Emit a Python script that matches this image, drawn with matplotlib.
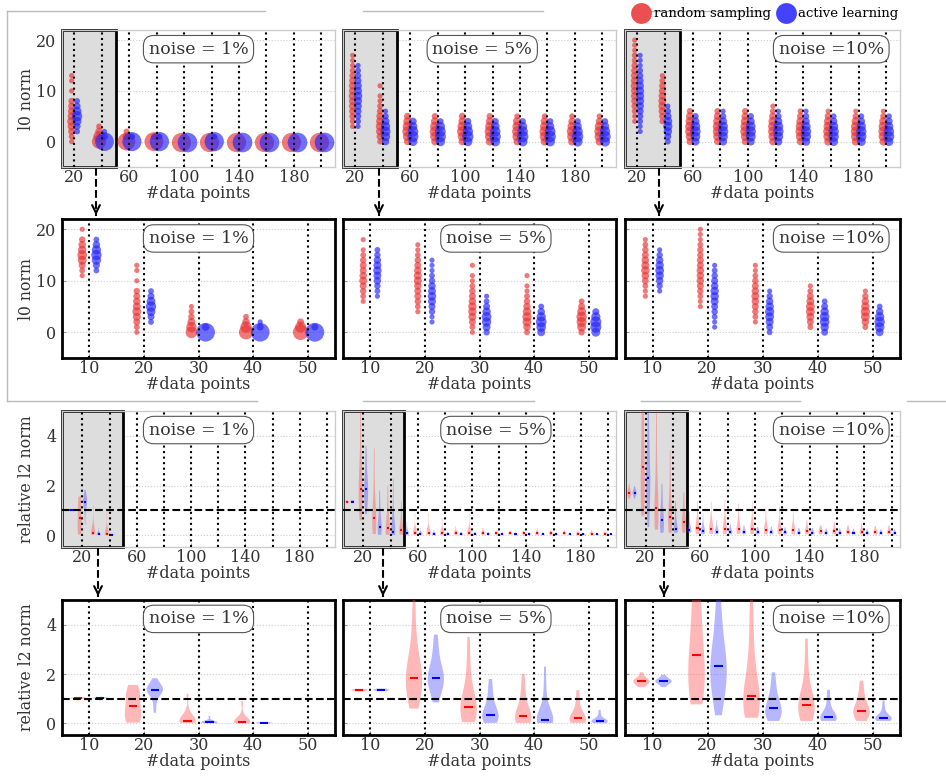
import numpy as np
import matplotlib.pyplot as plt
from matplotlib.patches import Rectangle, FancyArrowPatch
from matplotlib.lines import Line2D

plt.rcParams['font.family'] = 'DejaVu Serif'

W, H = 946, 779
RED = '#e83030'
BLUE = '#2222ff'

noise_text = ['noise = 1%', 'noise = 5%', 'noise =10%']

# l0 norm, bubble data: {#data points: (first l0 value, counts for l0 = first, first+1, ...)}
# overview rows (20..200)
rand_top_1 = {20: (0, [1, 2, 4, 6, 8, 6, 5, 4, 3, 0, 1, 0, 1, 1]), 40: (0, [25, 15, 5, 2]),
              60: (0, [40, 6, 2]), 80: (0, [46, 3]), 100: (0, [48]), 120: (0, [48]),
              140: (0, [48]), 160: (0, [48]), 180: (0, [48]), 200: (0, [48])}
act_top_1 = {20: (2, [2, 4, 8, 12, 8, 4, 2]), 40: (0, [45, 4, 1]), 60: (0, [47, 3]),
             80: (0, [48, 2]), 100: (0, [50]), 120: (0, [48, 2]), 140: (0, [50]),
             160: (0, [50]), 180: (0, [50]), 200: (0, [50])}
rand_top_5 = {20: (3, [1, 2, 3, 4, 5, 5, 6, 5, 5, 4, 3, 2, 1, 1, 1]),
              40: (0, [2, 4, 6, 7, 6, 5, 3, 2, 1, 1, 0, 1]),
              60: (0, [4, 9, 12, 10, 7, 4]), 80: (0, [5, 10, 12, 10, 6, 3]),
              100: (0, [5, 9, 13, 10, 6, 4]), 120: (0, [6, 10, 12, 9, 6, 3]),
              140: (0, [5, 10, 12, 10, 7, 2]), 160: (0, [6, 11, 12, 9, 6, 2]),
              180: (0, [6, 11, 13, 9, 5, 2]), 200: (0, [6, 11, 12, 10, 5, 2])}
act_top_5 = {20: (3, [1, 2, 3, 4, 5, 6, 7, 6, 5, 4, 3, 2, 1]),
             40: (0, [5, 9, 11, 9, 6, 3, 1]),
             60: (0, [8, 14, 13, 8, 5]), 80: (0, [9, 14, 13, 9, 3]),
             100: (0, [9, 15, 12, 8, 4]), 120: (0, [10, 14, 12, 8, 4]),
             140: (0, [10, 15, 12, 8, 3]), 160: (0, [10, 15, 13, 7, 3]),
             180: (0, [11, 15, 12, 7, 3]), 200: (0, [11, 15, 12, 7, 3])}
rand_top_10 = {20: (4, [1, 1, 2, 3, 4, 5, 5, 6, 5, 5, 4, 3, 2, 2, 1, 1, 1]),
               40: (4, [2, 3, 5, 6, 6, 5, 4, 3, 2, 1]),
               60: (0, [4, 7, 10, 10, 8, 6, 3]), 80: (0, [4, 8, 10, 10, 8, 5, 3]),
               100: (0, [4, 8, 11, 10, 8, 5, 3]), 120: (0, [5, 8, 10, 10, 8, 5, 2, 1]),
               140: (0, [5, 9, 11, 10, 7, 4, 2]), 160: (0, [6, 10, 11, 9, 7, 4, 1]),
               180: (0, [6, 10, 11, 10, 7, 3, 1]), 200: (0, [6, 10, 11, 10, 7, 3, 1])}
act_top_10 = {20: (2, [1, 1, 2, 3, 4, 5, 6, 6, 6, 5, 4, 3, 2, 1, 1, 1]),
              40: (0, [2, 4, 7, 9, 8, 5, 3, 1]),
              60: (0, [6, 10, 12, 10, 6, 3]), 80: (0, [6, 10, 12, 10, 6, 3, 1]),
              100: (0, [6, 11, 12, 10, 6, 3]), 120: (0, [6, 10, 12, 10, 6, 3, 1]),
              140: (0, [7, 11, 12, 9, 5, 3, 1]), 160: (0, [8, 12, 12, 9, 5, 2]),
              180: (0, [8, 12, 12, 9, 5, 2]), 200: (0, [8, 13, 12, 8, 5, 2])}

# zoomed rows (10..50)
rand_zoom_1 = {10: (11, [1, 2, 4, 8, 10, 7, 5, 3, 0, 1]),
               20: (0, [1, 2, 4, 6, 8, 6, 5, 4, 3, 0, 1, 0, 1, 1]),
               30: (0, [16, 12, 6, 3, 2, 1]), 40: (0, [25, 15, 5, 2]), 50: (0, [30, 14, 4])}
act_zoom_1 = {10: (12, [2, 4, 9, 12, 9, 5, 2]), 20: (2, [2, 4, 8, 12, 8, 4, 2]),
              30: (0, [45, 5]), 40: (0, [45, 4, 1]), 50: (0, [46, 4])}
rand_zoom_5 = {10: (6, [1, 2, 3, 4, 6, 5, 4, 4, 3, 2, 1, 0, 1]),
               20: (4, [1, 2, 3, 4, 4, 5, 6, 6, 5, 4, 3, 2, 1, 1]),
               30: (0, [1, 2, 4, 6, 7, 7, 5, 4, 3, 2, 1, 1, 0, 1]),
               40: (0, [2, 5, 8, 9, 7, 5, 3, 2, 1, 1, 0, 1]),
               50: (0, [3, 8, 11, 12, 8, 4, 2])}
act_zoom_5 = {10: (7, [1, 2, 3, 5, 6, 7, 6, 5, 3, 2]),
              20: (2, [1, 1, 3, 4, 6, 7, 6, 5, 3, 2, 1, 1, 1]),
              30: (0, [3, 6, 9, 10, 7, 4, 2, 1]),
              40: (0, [6, 10, 13, 9, 5, 2]),
              50: (0, [8, 14, 14, 9, 4])}
rand_zoom_10 = {10: (7, [1, 1, 2, 4, 5, 7, 6, 5, 4, 3, 2, 1]),
                20: (5, [1, 1, 2, 3, 4, 5, 5, 5, 4, 4, 3, 3, 2, 1, 1, 1]),
                30: (2, [1, 2, 3, 4, 5, 6, 5, 4, 3, 2, 1, 1]),
                40: (1, [2, 4, 6, 8, 8, 6, 4, 2, 1]),
                50: (1, [2, 5, 8, 9, 7, 5, 3, 1])}
act_zoom_10 = {10: (8, [1, 3, 5, 7, 8, 7, 5, 3, 1]),
               20: (1, [1, 1, 2, 3, 4, 6, 7, 7, 5, 4, 3, 2, 1]),
               30: (0, [2, 4, 6, 8, 9, 7, 5, 3, 1]),
               40: (0, [4, 7, 10, 10, 7, 4, 2]),
               50: (0, [6, 10, 12, 9, 5, 2])}

# relative l2 norm samples per #data points
rand_l2_1 = {10: [1.0, 1.01, 1.02, 1.03, 1.03, 1.04, 1.05, 1.06],
             20: [0.03, 0.1, 0.15, 0.25, 0.4, 0.55, 0.69, 0.85, 1.0, 1.15, 1.3, 1.45, 1.56],
             30: [0.02, 0.04, 0.06, 0.08, 0.09, 0.1, 0.12, 0.15, 0.25, 0.5, 1.2],
             40: [0.01, 0.02, 0.03, 0.04, 0.05, 0.06, 0.08, 0.1, 0.3, 0.9]}
act_l2_1 = {10: [1.01, 1.02, 1.03, 1.03, 1.04, 1.05, 1.06],
            20: [0.43, 0.8, 1.1, 1.25, 1.32, 1.35, 1.36, 1.37, 1.4, 1.45, 1.52, 1.62, 1.83],
            30: [0.01, 0.02, 0.03, 0.04, 0.05, 0.05, 0.06, 0.08, 0.12, 0.3],
            40: [0.0, 0.01, 0.02, 0.02, 0.03, 0.03, 0.04, 0.05, 0.06]}
rand_l2_5 = {10: [1.3, 1.32, 1.34, 1.35, 1.36, 1.38, 1.4],
             20: [0.6, 1.0, 1.3, 1.5, 1.65, 1.8, 1.85, 1.95, 2.2, 2.6, 3.2, 4.2, 5.6],
             30: [0.05, 0.15, 0.3, 0.4, 0.5, 0.6, 0.68, 0.8, 1.0, 1.3, 1.8, 2.5, 3.5],
             40: [0.02, 0.06, 0.1, 0.15, 0.2, 0.25, 0.3, 0.4, 0.55, 0.8, 1.1, 1.5, 2.0],
             50: [0.02, 0.05, 0.08, 0.12, 0.15, 0.18, 0.2, 0.25, 0.35, 0.5, 0.7, 1.0, 1.35],
             60: [0.02, 0.05, 0.07, 0.09, 0.1, 0.12, 0.15, 0.25, 0.88],
             70: [0.02, 0.04, 0.07, 0.09, 0.1, 0.12, 0.16, 0.3, 0.88],
             80: [0.02, 0.05, 0.07, 0.08, 0.1, 0.11, 0.14, 0.25, 0.68],
             90: [0.02, 0.04, 0.06, 0.08, 0.09, 0.11, 0.14, 0.2, 0.37],
             100: [0.02, 0.05, 0.07, 0.09, 0.1, 0.12, 0.15, 0.25, 0.88],
             110: [0.02, 0.04, 0.06, 0.08, 0.09, 0.1, 0.13, 0.18, 0.3],
             120: [0.02, 0.04, 0.06, 0.07, 0.08, 0.1, 0.12, 0.2],
             130: [0.02, 0.04, 0.06, 0.07, 0.08, 0.1, 0.12, 0.2],
             140: [0.02, 0.04, 0.05, 0.07, 0.08, 0.1, 0.12, 0.2],
             150: [0.02, 0.04, 0.06, 0.07, 0.09, 0.1, 0.14, 0.3],
             160: [0.02, 0.03, 0.05, 0.07, 0.08, 0.1, 0.13, 0.22],
             170: [0.02, 0.04, 0.05, 0.07, 0.08, 0.09, 0.12, 0.22],
             180: [0.02, 0.03, 0.05, 0.06, 0.08, 0.09, 0.12, 0.2],
             190: [0.02, 0.03, 0.05, 0.06, 0.07, 0.09, 0.12, 0.2],
             200: [0.02, 0.03, 0.05, 0.06, 0.07, 0.09, 0.11, 0.2]}
act_l2_5 = {10: [1.31, 1.33, 1.35, 1.36, 1.37, 1.39, 1.41],
            20: [0.85, 1.2, 1.45, 1.6, 1.75, 1.82, 1.85, 1.95, 2.1, 2.35, 2.7, 3.1, 3.6],
            30: [0.02, 0.08, 0.15, 0.22, 0.28, 0.32, 0.35, 0.45, 0.6, 0.8, 1.1, 1.4, 1.8],
            40: [0.01, 0.03, 0.06, 0.09, 0.12, 0.14, 0.15, 0.2, 0.3, 0.5, 0.9, 1.5, 2.3],
            50: [0.01, 0.03, 0.05, 0.07, 0.08, 0.09, 0.1, 0.12, 0.15, 0.2, 0.35, 0.55],
            60: [0.01, 0.03, 0.05, 0.06, 0.07, 0.08, 0.1, 0.28],
            70: [0.01, 0.03, 0.04, 0.06, 0.07, 0.08, 0.1, 0.2],
            80: [0.01, 0.02, 0.04, 0.05, 0.06, 0.07, 0.09, 0.15],
            90: [0.01, 0.02, 0.04, 0.05, 0.06, 0.07, 0.09, 0.15],
            100: [0.01, 0.02, 0.04, 0.05, 0.06, 0.07, 0.08, 0.14],
            110: [0.01, 0.02, 0.03, 0.05, 0.06, 0.07, 0.08, 0.12],
            120: [0.01, 0.02, 0.03, 0.04, 0.05, 0.06, 0.08, 0.12],
            130: [0.01, 0.02, 0.03, 0.04, 0.05, 0.06, 0.07, 0.12],
            140: [0.01, 0.02, 0.03, 0.04, 0.05, 0.06, 0.07, 0.11],
            150: [0.01, 0.02, 0.03, 0.04, 0.05, 0.06, 0.07, 0.11],
            160: [0.01, 0.02, 0.03, 0.04, 0.05, 0.05, 0.07, 0.1],
            170: [0.01, 0.02, 0.03, 0.04, 0.04, 0.05, 0.06, 0.1],
            180: [0.01, 0.02, 0.03, 0.04, 0.04, 0.05, 0.06, 0.1],
            190: [0.01, 0.02, 0.03, 0.03, 0.04, 0.05, 0.06, 0.1],
            200: [0.01, 0.02, 0.03, 0.03, 0.04, 0.05, 0.06, 0.09]}
rand_l2_10 = {10: [1.47, 1.58, 1.64, 1.68, 1.71, 1.74, 1.78, 1.85, 2.07],
              20: [0.77, 1.1, 1.35, 1.55, 1.75, 2.0, 2.3, 2.76, 3.2, 3.7, 4.3, 5.0, 5.8, 6.5, 7.2],
              30: [0.23, 0.4, 0.55, 0.65, 0.75, 0.85, 0.95, 1.1, 1.3, 1.6, 2.0, 2.6, 3.3, 4.2, 5.3],
              40: [0.1, 0.25, 0.4, 0.5, 0.6, 0.7, 0.75, 0.85, 1.0, 1.3, 1.8, 2.5, 3.44],
              50: [0.1, 0.2, 0.3, 0.38, 0.45, 0.5, 0.52, 0.6, 0.72, 0.9, 1.1, 1.4, 1.73],
              60: [0.05, 0.12, 0.18, 0.24, 0.3, 0.36, 0.45, 0.7, 1.35],
              70: [0.05, 0.1, 0.16, 0.22, 0.27, 0.33, 0.42, 0.7, 1.35],
              80: [0.05, 0.1, 0.16, 0.21, 0.26, 0.32, 0.42, 0.7, 1.42],
              90: [0.05, 0.1, 0.15, 0.2, 0.25, 0.3, 0.4, 0.65, 1.28],
              100: [0.05, 0.1, 0.15, 0.2, 0.24, 0.3, 0.4, 0.65, 1.35],
              110: [0.04, 0.09, 0.14, 0.18, 0.22, 0.27, 0.35, 0.55, 1.0],
              120: [0.04, 0.09, 0.13, 0.17, 0.21, 0.26, 0.34, 0.55, 1.15],
              130: [0.04, 0.08, 0.12, 0.16, 0.2, 0.25, 0.32, 0.5, 0.88],
              140: [0.04, 0.08, 0.12, 0.15, 0.18, 0.22, 0.28, 0.4, 0.6],
              150: [0.04, 0.08, 0.11, 0.14, 0.17, 0.2, 0.25, 0.32, 0.4],
              160: [0.04, 0.07, 0.1, 0.13, 0.16, 0.19, 0.24, 0.35, 0.55],
              170: [0.04, 0.07, 0.1, 0.13, 0.15, 0.18, 0.22, 0.3, 0.4],
              180: [0.04, 0.07, 0.1, 0.12, 0.15, 0.18, 0.22, 0.32, 0.48],
              190: [0.04, 0.07, 0.09, 0.12, 0.14, 0.17, 0.21, 0.28, 0.37],
              200: [0.04, 0.07, 0.09, 0.12, 0.14, 0.17, 0.21, 0.3, 0.4]}
act_l2_10 = {10: [1.47, 1.6, 1.66, 1.69, 1.71, 1.73, 1.76, 1.83, 1.97],
             20: [0.33, 0.8, 1.2, 1.5, 1.7, 1.9, 2.1, 2.32, 2.5, 2.75, 3.0, 3.4, 3.9, 4.5, 5.2],
             30: [0.1, 0.2, 0.3, 0.38, 0.45, 0.52, 0.61, 0.7, 0.85, 1.05, 1.3, 1.65, 2.07],
             40: [0.1, 0.14, 0.17, 0.2, 0.22, 0.23, 0.24, 0.28, 0.35, 0.5, 0.75, 1.05, 1.36],
             50: [0.1, 0.13, 0.15, 0.17, 0.18, 0.19, 0.2, 0.22, 0.26, 0.33, 0.45, 0.65, 0.93],
             60: [0.04, 0.08, 0.11, 0.14, 0.17, 0.2, 0.28, 0.45, 0.88],
             70: [0.04, 0.07, 0.1, 0.13, 0.15, 0.18, 0.24, 0.35, 0.6],
             80: [0.04, 0.07, 0.1, 0.12, 0.14, 0.17, 0.22, 0.3, 0.45],
             90: [0.04, 0.07, 0.09, 0.12, 0.14, 0.16, 0.2, 0.28, 0.4],
             100: [0.04, 0.06, 0.09, 0.11, 0.13, 0.15, 0.19, 0.26, 0.35],
             110: [0.04, 0.06, 0.08, 0.1, 0.12, 0.14, 0.18, 0.25, 0.35],
             120: [0.03, 0.06, 0.08, 0.1, 0.12, 0.14, 0.17, 0.24, 0.32],
             130: [0.03, 0.06, 0.08, 0.1, 0.11, 0.13, 0.16, 0.22, 0.3],
             140: [0.03, 0.05, 0.07, 0.09, 0.11, 0.13, 0.16, 0.22, 0.3],
             150: [0.03, 0.05, 0.07, 0.09, 0.1, 0.12, 0.15, 0.2, 0.28],
             160: [0.03, 0.05, 0.07, 0.08, 0.1, 0.12, 0.14, 0.2, 0.27],
             170: [0.03, 0.05, 0.07, 0.08, 0.1, 0.11, 0.14, 0.19, 0.26],
             180: [0.03, 0.05, 0.06, 0.08, 0.09, 0.11, 0.13, 0.18, 0.25],
             190: [0.03, 0.05, 0.06, 0.08, 0.09, 0.11, 0.13, 0.18, 0.25],
             200: [0.03, 0.04, 0.06, 0.07, 0.09, 0.1, 0.12, 0.17, 0.24]}

top_sets = [(rand_top_1, act_top_1), (rand_top_5, act_top_5), (rand_top_10, act_top_10)]
zoom_sets = [(rand_zoom_1, act_zoom_1), (rand_zoom_5, act_zoom_5), (rand_zoom_10, act_zoom_10)]
l2_sets = [(rand_l2_1, act_l2_1), (rand_l2_5, act_l2_5), (rand_l2_10, act_l2_10)]

col_x = [(62, 335), (343, 616), (625, 900)]
row_y = [(30, 167), (219, 358), (411, 547), (600, 735)]
text_x = [[0.5, 0.51, 0.75], [0.5, 0.56, 0.75], [0.5, 0.56, 0.75], [0.5, 0.56, 0.75]]

fig = plt.figure(figsize=(W / 100, H / 100), dpi=100)


def px_axes(x0, x1, y0, y1):
    return fig.add_axes([x0 / W, 1 - y1 / H, (x1 - x0) / W, (y1 - y0) / H])


def fig_line(xs, ys, **kw):
    fig.add_artist(Line2D([x / W for x in xs], [1 - y / H for y in ys], transform=fig.transFigure, **kw))


def bubbles(ax, data, dx, color):
    for x, (v0, counts) in data.items():
        c = np.array(counts)
        vals = v0 + np.arange(len(c))
        keep = c > 0
        ax.scatter(np.full(keep.sum(), x + dx), vals[keep], s=10 + 3.8 * c[keep],
                   color=color, alpha=0.65, lw=0, zorder=3)


def violins(ax, data, dx, face, line):
    xs = [x for x in data if len(data[x])]
    parts = ax.violinplot([data[x] for x in xs], positions=[x + dx for x in xs], widths=3,
                          showextrema=False, showmedians=True)
    for b in parts['bodies']:
        b.set_facecolor(face)
        b.set_edgecolor('none')
        b.set_alpha(0.4)
        b.set_zorder(3)
    parts['cmedians'].set_color(line)
    parts['cmedians'].set_linewidth(1.5)
    parts['cmedians'].set_zorder(3.5)


def style(ax, overview, col, row, ylabel):
    ax.yaxis.grid(True, color='#cccccc', ls=':', lw=0.8)
    ax.set_axisbelow(True)
    for sp in ax.spines.values():
        if overview:
            sp.set_color('#cccccc')
            sp.set_linewidth(1)
        else:
            sp.set_color('black')
            sp.set_linewidth(2)
    ax.tick_params(direction='in', length=3, color='#999999', labelsize=11.5,
                   labelcolor='#333333', top=False, right=False)
    ax.tick_params(axis='x', pad=1.5)
    ax.tick_params(axis='y', pad=4)
    if col > 0:
        ax.tick_params(labelleft=False)
    else:
        ax.set_ylabel(ylabel, fontsize=11.3, color='#333333')
        ax.yaxis.set_label_coords(-27 / (col_x[0][1] - col_x[0][0]), 0.5)
    ax.set_xlabel('#data points', fontsize=11.5, color='#333333', labelpad=-1)
    ax.text(text_x[row][col], 0.86, noise_text[col], transform=ax.transAxes, ha='center', va='center',
            fontsize=12.5, color='#333333', zorder=6,
            bbox=dict(boxstyle='round,pad=0.3,rounding_size=0.6', fc='white', ec='#555555', lw=0.8))


for col in range(3):
    x0, x1 = col_x[col]
    # row 1: overview l0 norm
    ax = px_axes(x0, x1, *row_y[0])
    ax.set_xlim(11, 210)
    ax.set_ylim(-5, 22)
    ax.add_patch(Rectangle((11, -5), 39.5, 27, facecolor='#dddddd', edgecolor='black', lw=2,
                           zorder=1, clip_on=False))
    bubbles(ax, top_sets[col][0], -2, RED)
    bubbles(ax, top_sets[col][1], 2, BLUE)
    for x in range(20, 201, 20):
        ax.axvline(x, color='black', ls=':', lw=1.5, zorder=4)
    ax.set_xticks([20, 60, 100, 140, 180])
    ax.set_yticks([0, 10, 20])
    style(ax, True, col, 0, 'l0 norm')

    # row 2: zoom l0 norm
    ax = px_axes(x0, x1, *row_y[1])
    ax.set_xlim(5, 55)
    ax.set_ylim(-5, 22)
    bubbles(ax, zoom_sets[col][0], -1.3, RED)
    bubbles(ax, zoom_sets[col][1], 1.3, BLUE)
    for x in range(10, 51, 10):
        ax.axvline(x, color='black', ls=':', lw=1.5, zorder=4)
    ax.set_xticks([10, 20, 30, 40, 50])
    ax.set_yticks([0, 10, 20])
    style(ax, False, col, 1, 'l0 norm')

    # row 3: overview relative l2 norm
    ax = px_axes(x0, x1, *row_y[2])
    ax.set_xlim(5, 206)
    ax.set_ylim(-0.47, 5)
    ax.add_patch(Rectangle((5, -0.47), 45, 5.47, facecolor='#dddddd', edgecolor='black', lw=2,
                           zorder=1, clip_on=False))
    violins(ax, l2_sets[col][0], -2, '#ff4d4d', 'red')
    violins(ax, l2_sets[col][1], 2, '#4d4dff', 'blue')
    for x in range(20, 201, 20):
        ax.axvline(x, color='black', ls=':', lw=1.5, zorder=4)
    ax.axhline(1, color='black', ls='--', lw=1.5, zorder=4)
    ax.set_xticks([20, 60, 100, 140, 180])
    ax.set_yticks([0, 2, 4])
    style(ax, True, col, 2, 'relative l2 norm')

    # row 4: zoom relative l2 norm
    ax = px_axes(x0, x1, *row_y[3])
    ax.set_xlim(5, 55)
    ax.set_ylim(-0.47, 5)
    violins(ax, {k: v for k, v in l2_sets[col][0].items() if k <= 50}, -2, '#ff4d4d', 'red')
    violins(ax, {k: v for k, v in l2_sets[col][1].items() if k <= 50}, 2, '#4d4dff', 'blue')
    for x in range(10, 51, 10):
        ax.axvline(x, color='black', ls=':', lw=1.5, zorder=4)
    ax.axhline(1, color='black', ls='--', lw=1.5, zorder=4)
    ax.set_xticks([10, 20, 30, 40, 50])
    ax.set_yticks([0, 2, 4])
    style(ax, False, col, 3, 'relative l2 norm')

# dashed arrows from overview boxes to zoomed panels
for xa, (ya, yb) in [(96, (168, 218)), (379, (168, 218)), (659, (168, 218)),
                     (98, (548, 599)), (383, (548, 599)), (664, (548, 599))]:
    fig_line([xa, xa], [ya, yb - 2], color='black', ls='--', lw=1.5)
    fig.add_artist(FancyArrowPatch((xa / W, 1 - (yb - 8) / H), (xa / W, 1 - yb / H),
                                   transform=fig.transFigure, arrowstyle='->',
                                   mutation_scale=14, lw=1.5, color='black'))

# light frame around the l0 block
frame = dict(color='#bbbbbb', lw=1)
fig_line([7, 7], [11, 401], **frame)
for xa, xb in [(7, 265), (363, 543), (650, 768)]:
    fig_line([xa, xb], [11, 11], **frame)
for xa, xb in [(7, 257), (363, 534), (641, 800), (907, 946)]:
    fig_line([xa, xb], [401, 401], **frame)

handles = [Line2D([], [], marker='o', ls='', ms=15, color=RED, alpha=0.85, mew=0),
           Line2D([], [], marker='o', ls='', ms=15, color=BLUE, alpha=0.85, mew=0)]
fig.legend(handles, ['random sampling', 'active learning'], loc='upper right',
           bbox_to_anchor=(906 / W, 1.0), ncol=2, frameon=False, fontsize=9.5,
           handletextpad=0.3, columnspacing=0.5, borderaxespad=0.15, handlelength=1.3)

fig.savefig('out.png', dpi=100)
